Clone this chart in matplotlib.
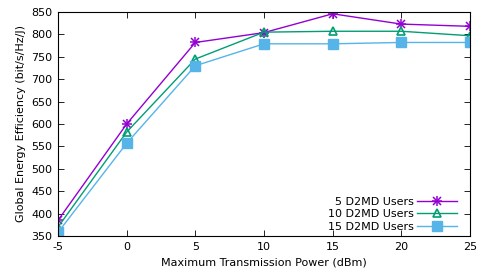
import matplotlib
matplotlib.use('Agg')
import matplotlib.pyplot as plt

# data
power_dbm = [-5, 0, 5, 10, 15, 20, 25]
ee_5 = [385, 600, 782, 804, 846, 823, 818]
ee_10 = [370, 582, 745, 805, 807, 807, 797]
ee_15 = [358, 557, 730, 779, 779, 782, 782]
labels = ['5 D2MD Users', '10 D2MD Users', '15 D2MD Users']
x_ticks = [-5, 0, 5, 10, 15, 20, 25]
y_ticks = [350, 400, 450, 500, 550, 600, 650, 700, 750, 800, 850]

plt.rcParams['font.family'] = 'DejaVu Sans'
plt.rcParams['font.size'] = 8
plt.rcParams['axes.unicode_minus'] = False

fig = plt.figure(figsize=(4.91, 2.73), dpi=100)
ax = fig.add_axes([58 / 491, 1 - 236 / 273, (470 - 58) / 491, (236 - 12) / 273])

# asterisk = x + plus on top of each other
l5a, = ax.plot(power_dbm, ee_5, color='#9400d3', marker='x', markersize=6, mew=1.1, lw=1.0)
l5b, = ax.plot(power_dbm, ee_5, color='#9400d3', marker='+', markersize=7.5, mew=1.1, lw=0)
l10, = ax.plot(power_dbm, ee_10, color='#009e73', marker='^', markersize=6, mfc='none', mew=1.2, lw=1.0)
l15, = ax.plot(power_dbm, ee_15, color='#56b4e9', marker='s', markersize=6.5, lw=1.0)

ax.set_xlim(-5, 25)
ax.set_ylim(350, 850)
ax.set_xticks(x_ticks)
ax.set_yticks(y_ticks)
ax.tick_params(direction='in', top=True, right=True, length=4, width=0.6, pad=4)
for s in ax.spines.values():
    s.set_linewidth(0.8)

ax.set_xlabel('Maximum Transmission Power (dBm)')
ax.set_ylabel('Global Energy Efficiency (bit/s/Hz/J)')

ax.legend([(l5a, l5b), l10, l15], labels, loc='lower right', bbox_to_anchor=(0.979, 0.0),
          markerfirst=False, frameon=False, handlelength=3.6, labelspacing=0.2,
          borderaxespad=0, handletextpad=0.3)

fig.savefig('out.png', dpi=100)
